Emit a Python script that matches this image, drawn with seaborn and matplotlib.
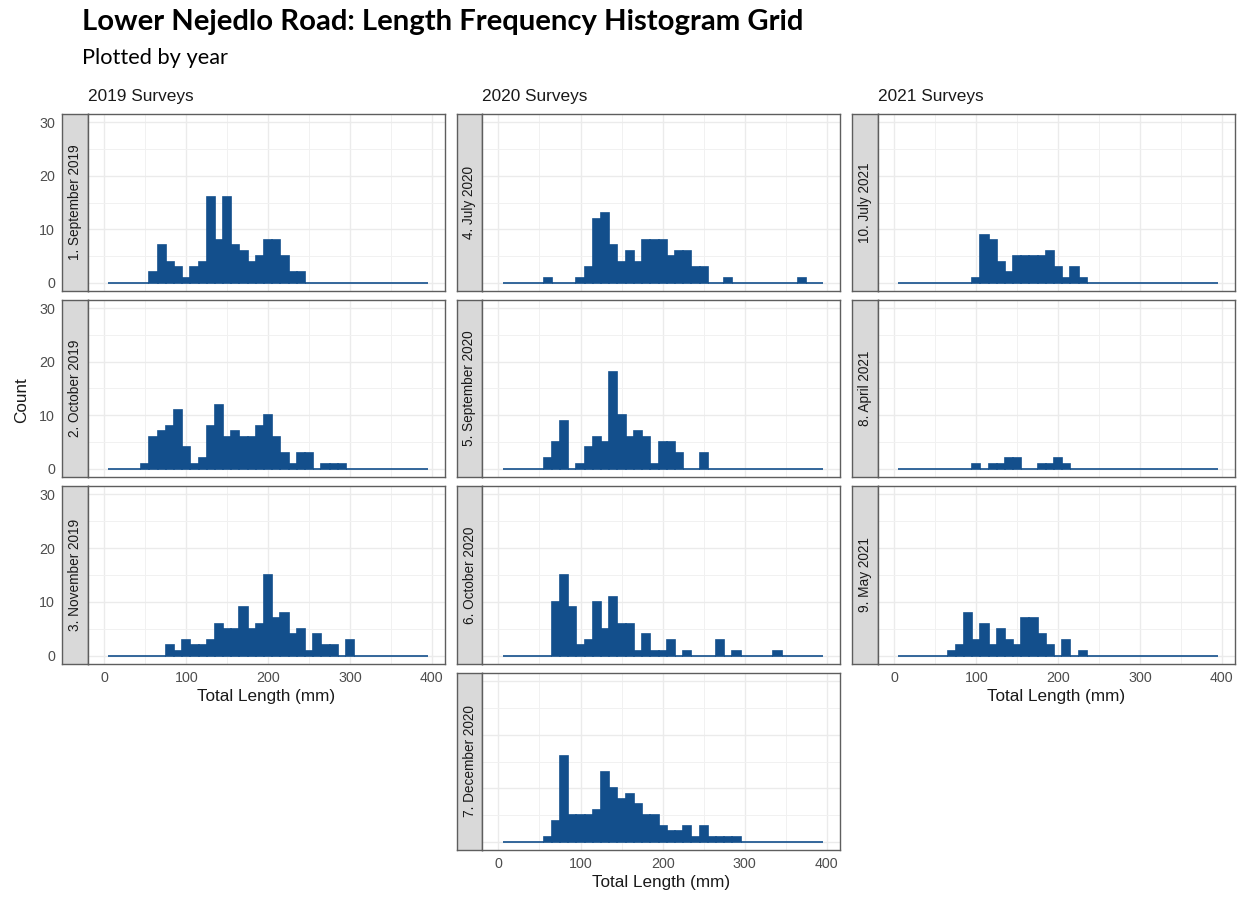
import matplotlib
matplotlib.use("Agg")
import matplotlib.pyplot as plt
import seaborn as sns
from matplotlib.ticker import MultipleLocator

# ---------------- data ----------------
bin_centers = list(range(10, 400, 10))          # 39 bins of 10 mm, 5..395
bin_edges = list(range(5, 405, 10))

column_titles = ["2019 Surveys", "2020 Surveys", "2021 Surveys"]

labels_2019 = ["1. September 2019", "2. October 2019", "3. November 2019"]
labels_2020 = ["4. July 2020", "5. September 2020", "6. October 2020", "7. December 2020"]
labels_2021 = ["10. July 2021", "8. April 2021", "9. May 2021"]

sep_2019 = [0, 0, 0, 0, 0, 2, 7, 4, 3, 1, 3, 4, 16, 8, 16, 7, 6, 4, 5, 8, 8, 5, 2, 2,
            0, 0, 0, 0, 0, 0, 0, 0, 0, 0, 0, 0, 0, 0, 0]
oct_2019 = [0, 0, 0, 0, 1, 6, 7, 8, 11, 4, 1, 2, 8, 12, 6, 7, 6, 6, 8, 10, 6, 3, 1, 3,
            3, 0, 1, 1, 1, 0, 0, 0, 0, 0, 0, 0, 0, 0, 0]
nov_2019 = [0, 0, 0, 0, 0, 0, 0, 2, 1, 3, 2, 2, 3, 6, 5, 5, 9, 5, 6, 15, 7, 8, 4, 5,
            1, 4, 2, 2, 0, 3, 0, 0, 0, 0, 0, 0, 0, 0, 0]
jul_2020 = [0, 0, 0, 0, 0, 1, 0, 0, 0, 1, 3, 12, 13, 7, 4, 6, 4, 8, 8, 8, 5, 6, 6, 3,
            3, 0, 0, 1, 0, 0, 0, 0, 0, 0, 0, 0, 1, 0, 0]
sep_2020 = [0, 0, 0, 0, 0, 2, 5, 9, 0, 1, 4, 6, 5, 18, 10, 6, 7, 6, 1, 5, 5, 3, 0, 0,
            3, 0, 0, 0, 0, 0, 0, 0, 0, 0, 0, 0, 0, 0, 0]
oct_2020 = [0, 0, 0, 0, 0, 0, 10, 15, 9, 2, 3, 10, 5, 11, 6, 6, 1, 4, 1, 1, 3, 0, 1, 0,
            0, 0, 3, 0, 1, 0, 0, 0, 0, 1, 0, 0, 0, 0, 0]
dec_2020 = [0, 0, 0, 0, 0, 1, 4, 16, 5, 5, 5, 6, 13, 10, 8, 9, 7, 5, 5, 3, 2, 2, 3, 1,
            3, 1, 1, 1, 1, 0, 0, 0, 0, 0, 0, 0, 0, 0, 0]
jul_2021 = [0, 0, 0, 0, 0, 0, 0, 0, 0, 1, 9, 8, 4, 2, 5, 5, 5, 5, 6, 3, 1, 3, 1, 0,
            0, 0, 0, 0, 0, 0, 0, 0, 0, 0, 0, 0, 0, 0, 0]
apr_2021 = [0, 0, 0, 0, 0, 0, 0, 0, 0, 1, 0, 1, 1, 2, 2, 0, 0, 1, 1, 2, 1, 0, 0, 0,
            0, 0, 0, 0, 0, 0, 0, 0, 0, 0, 0, 0, 0, 0, 0]
may_2021 = [0, 0, 0, 0, 0, 0, 1, 2, 8, 3, 6, 2, 5, 3, 2, 7, 7, 4, 2, 0, 3, 0, 1, 0,
            0, 0, 0, 0, 0, 0, 0, 0, 0, 0, 0, 0, 0, 0, 0]

columns = [
    (labels_2019, [sep_2019, oct_2019, nov_2019]),
    (labels_2020, [jul_2020, sep_2020, oct_2020, dec_2020]),
    (labels_2021, [jul_2021, apr_2021, may_2021]),
]
x_ticks = [0, 100, 200, 300, 400]
y_ticks = [0, 10, 20, 30]

# ---------------- style ----------------
sns.set_style("white")
plt.rcParams["font.family"] = ["Liberation Sans", "DejaVu Sans"]

W, H = 1243, 899
fig = plt.figure(figsize=(W / 100, H / 100), dpi=100)
fig.patch.set_facecolor("white")

FILL = "#134F8C"
EDGE = "#134F8C"
BORDER = "#5E5E5E"
GRID = "#EBEBEB"
TICKTXT = "#4D4D4D"

col_x = [(62, 88, 445), (457, 482, 840), (852, 878, 1235)]
row_y = [(114, 291), (300, 477), (486, 664), (673, 850)]


def rect(x0, y0, x1, y1):
    return [x0 / W, 1 - y1 / H, (x1 - x0) / W, (y1 - y0) / H]


for ci, (labels, datasets) in enumerate(columns):
    sx, px0, px1 = col_x[ci]
    n = len(datasets)
    for ri, (lab, counts) in enumerate(zip(labels, datasets)):
        y0, y1 = row_y[ri]
        axs = fig.add_axes(rect(sx, y0, px0, y1))
        ax = fig.add_axes(rect(px0, y0, px1, y1))

        # strip
        axs.set_facecolor("#D9D9D9")
        axs.set_ylim(-1.5, 31.5)
        axs.set_yticks(y_ticks)
        axs.set_xticks([])
        axs.tick_params(axis="y", length=3, width=0.8, color="#333333",
                        labelsize=10.3, labelcolor=TICKTXT, pad=2,
                        labelleft=(ci == 0))
        for sp in axs.spines.values():
            sp.set_color(BORDER)
            sp.set_linewidth(1.0)
        axs.text(0.5, 0.5, lab, rotation=90, transform=axs.transAxes,
                 ha="center", va="center", fontsize=9.8, color="#1A1A1A")

        # histogram
        sns.histplot(x=bin_centers, weights=counts, bins=bin_edges, ax=ax,
                     color=FILL, alpha=1, edgecolor=EDGE, linewidth=1.2)
        ax.set_xlim(-20, 416)
        ax.set_ylim(-1.5, 31.5)
        ax.set_yticks(y_ticks)
        ax.yaxis.set_minor_locator(MultipleLocator(5))
        ax.set_xticks(x_ticks)
        ax.xaxis.set_minor_locator(MultipleLocator(50))
        ax.grid(which="major", color=GRID, lw=1.0)
        ax.grid(which="minor", color="#F1F1F1", lw=0.7)
        ax.set_axisbelow(True)
        ax.set_ylabel("")
        ax.tick_params(axis="y", which="both", length=0, labelleft=False)
        ax.tick_params(axis="x", which="minor", length=0)
        for sp in ax.spines.values():
            sp.set_color(BORDER)
            sp.set_linewidth(1.0)
        if ri == n - 1:
            ax.tick_params(axis="x", which="major", length=3, width=0.8,
                           color="#333333", labelsize=10.3, labelcolor=TICKTXT, pad=2)
            ax.set_xlabel("Total Length (mm)", fontsize=12.3, color="#1A1A1A",
                          labelpad=3)
        else:
            ax.tick_params(axis="x", which="major", length=0, labelbottom=False)
            ax.set_xlabel("")

    fig.text((px0) / W, 1 - 101.5 / H, column_titles[ci], ha="left",
             va="baseline", fontsize=12.4, color="#1A1A1A")

fig.text(22 / W, 1 - 400 / H, "Count", rotation=90, ha="center", va="center",
         fontsize=12.3, color="#1A1A1A")

# titles (fit to reference widths)
renderer = fig.canvas.get_renderer()
t = fig.text(82 / W, 1 - 30 / H, "Lower Nejedlo Road: Length Frequency Histogram Grid",
             ha="left", va="baseline", fontsize=20, fontweight="bold",
             family=["Lato", "DejaVu Sans"], color="black")
wpx = t.get_window_extent(renderer).width
t.set_fontsize(20 * 721 / wpx)
s = fig.text(82 / W, 1 - 64 / H, "Plotted by year", ha="left", va="baseline",
             fontsize=14, family=["Lato", "DejaVu Sans"], color="black")
wpx = s.get_window_extent(renderer).width
s.set_fontsize(14 * 146 / wpx)

fig.savefig("out.png", dpi=100)
